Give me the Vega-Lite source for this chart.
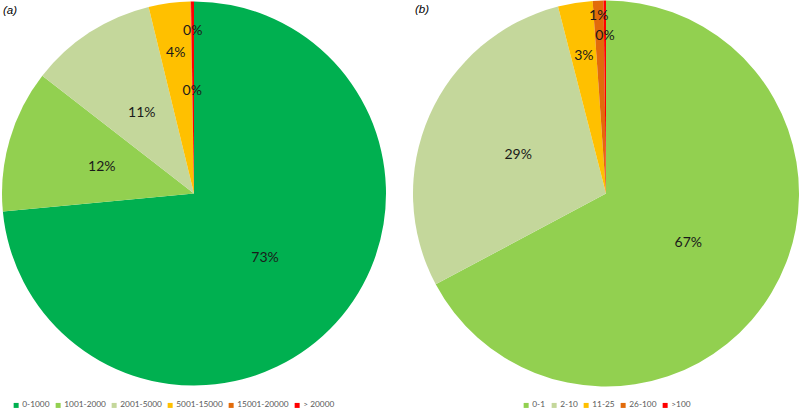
{
  "$schema": "https://vega.github.io/schema/vega-lite/v6.json",
  "padding": 0,
  "spacing": 24,
  "bounds": "flush",
  "background": "white",
  "config": {
    "view": {"stroke": null},
    "title": {"font": "Liberation Sans", "fontSize": 11.5, "fontWeight": "normal", "fontStyle": "italic", "color": "#000000", "anchor": "start", "frame": "group", "offset": -15, "dx": 3},
    "legend": {"orient": "none", "direction": "horizontal", "title": null, "symbolType": "square", "symbolSize": 25, "symbolStrokeWidth": 0, "labelFont": "Lato", "labelFontSize": 8.3, "labelColor": "#595959", "labelOffset": 2, "columnPadding": 4, "padding": 0}
  },
  "datasets": {
    "a": [
      {"cat": "0-1000", "value": 73.5, "label": "73%", "idx": 1},
      {"cat": "1001-2000", "value": 12.0, "label": "12%", "idx": 2},
      {"cat": "2001-5000", "value": 10.7, "label": "11%", "idx": 3},
      {"cat": "5001-15000", "value": 3.5, "label": "4%", "idx": 4},
      {"cat": "15001-20000", "value": 0.05, "label": "0%", "idx": 5},
      {"cat": "> 20000", "value": 0.25, "label": "0%", "idx": 6}
    ],
    "b": [
      {"cat": "0-1", "value": 67.2, "label": "67%", "idx": 1},
      {"cat": "2-10", "value": 28.8, "label": "29%", "idx": 2},
      {"cat": "11-25", "value": 2.9, "label": "3%", "idx": 3},
      {"cat": "26-100", "value": 0.9, "label": "1%", "idx": 4},
      {"cat": ">100", "value": 0.2, "label": "0%", "idx": 5}
    ]
  },
  "resolve": {"scale": {"color": "independent", "theta": "independent"}},
  "hconcat": [
    {
      "title": "(a)",
      "width": 388,
      "height": 385,
      "data": {"name": "a"},
      "encoding": {
        "theta": {"field": "value", "type": "quantitative", "stack": true},
        "order": {"field": "idx", "type": "quantitative"}
      },
      "layer": [
        {
          "mark": {"type": "arc", "radius": 192},
          "encoding": {
            "color": {
              "field": "cat", "type": "nominal",
              "scale": {"domain": ["0-1000", "1001-2000", "2001-5000", "5001-15000", "15001-20000", "> 20000"], "range": ["#00B050", "#92D050", "#C4D79B", "#FFC000", "#E26B0A", "#FF0000"]},
              "legend": {"legendX": 12, "legendY": 400}
            }
          }
        },
        {
          "mark": {"type": "text", "radius": 96, "font": "Lato", "fontSize": 14, "color": "#1a1a1a"},
          "encoding": {"text": {"condition": {"test": "datum.idx <= 3", "field": "label"}, "value": ""}}
        },
        {
          "mark": {"type": "text", "radius": 142, "font": "Lato", "fontSize": 14, "color": "#1a1a1a"},
          "encoding": {"text": {"condition": {"test": "datum.idx == 4", "field": "label"}, "value": ""}}
        },
        {
          "mark": {"type": "text", "radius": 103, "font": "Lato", "fontSize": 14, "color": "#1a1a1a"},
          "encoding": {"text": {"condition": {"test": "datum.idx == 5", "field": "label"}, "value": ""}}
        },
        {
          "mark": {"type": "text", "radius": 163, "font": "Lato", "fontSize": 14, "color": "#1a1a1a"},
          "encoding": {"text": {"condition": {"test": "datum.idx == 6", "field": "label"}, "value": ""}}
        }
      ]
    },
    {
      "title": "(b)",
      "width": 388,
      "height": 385,
      "data": {"name": "b"},
      "encoding": {
        "theta": {"field": "value", "type": "quantitative", "stack": true},
        "order": {"field": "idx", "type": "quantitative"}
      },
      "layer": [
        {
          "mark": {"type": "arc", "radius": 193},
          "encoding": {
            "color": {
              "field": "cat", "type": "nominal",
              "scale": {"domain": ["0-1", "2-10", "11-25", "26-100", ">100"], "range": ["#92D050", "#C4D79B", "#FFC000", "#E26B0A", "#FF0000"]},
              "legend": {"legendX": 110, "legendY": 400}
            }
          }
        },
        {
          "mark": {"type": "text", "radius": 96, "font": "Lato", "fontSize": 14, "color": "#1a1a1a"},
          "encoding": {"text": {"condition": {"test": "datum.idx <= 2", "field": "label"}, "value": ""}}
        },
        {
          "mark": {"type": "text", "radius": 139, "font": "Lato", "fontSize": 14, "color": "#1a1a1a"},
          "encoding": {"text": {"condition": {"test": "datum.idx == 3", "field": "label"}, "value": ""}}
        },
        {
          "mark": {"type": "text", "radius": 178, "font": "Lato", "fontSize": 14, "color": "#1a1a1a"},
          "encoding": {"text": {"condition": {"test": "datum.idx == 4", "field": "label"}, "value": ""}}
        },
        {
          "mark": {"type": "text", "radius": 158, "font": "Lato", "fontSize": 14, "color": "#1a1a1a"},
          "encoding": {"text": {"condition": {"test": "datum.idx == 5", "field": "label"}, "value": ""}}
        }
      ]
    }
  ]
}
